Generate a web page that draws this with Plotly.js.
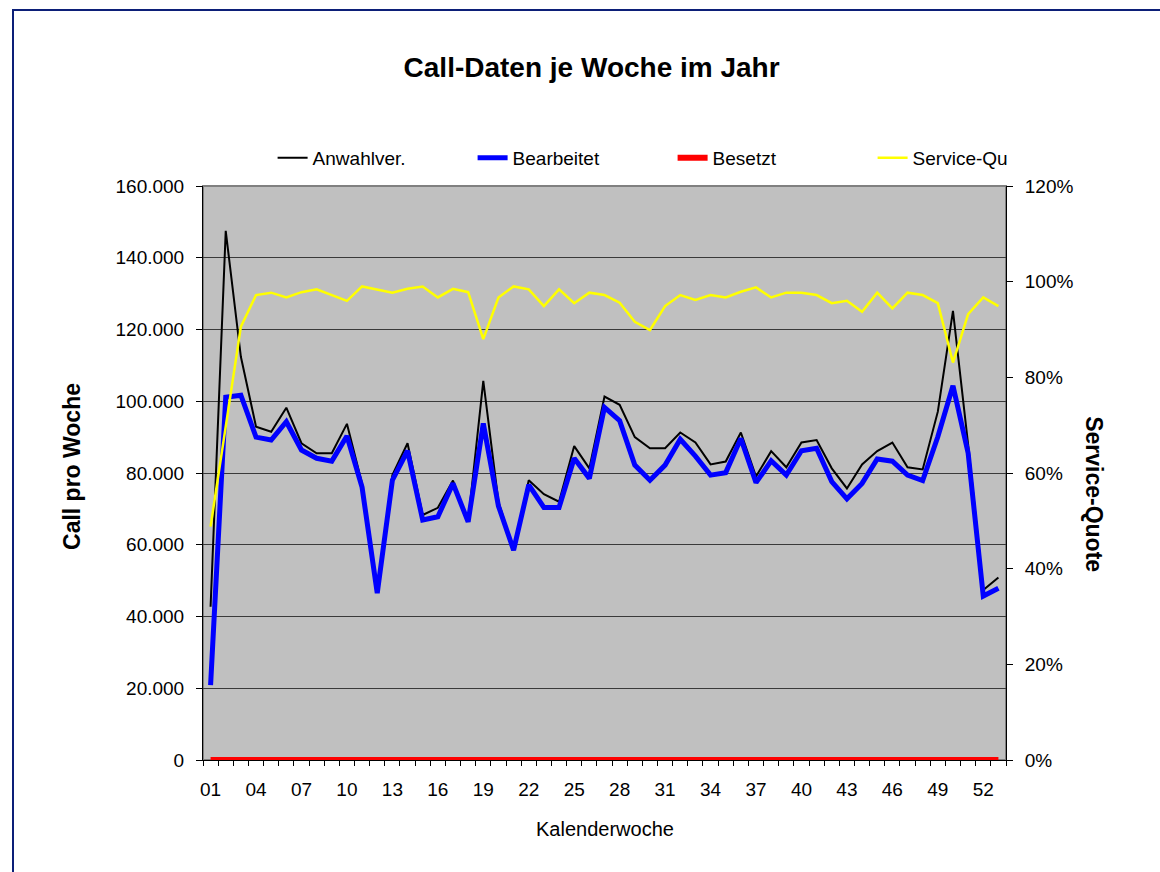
<!DOCTYPE html>
<html>
<head>
<meta charset="utf-8">
<script src="https://cdn.plot.ly/plotly-3.0.1.min.js"></script>
<style>
  html, body { margin: 0; padding: 0; background: #ffffff; }
  #wrap { position: relative; width: 1160px; height: 872px; overflow: hidden; }
  #chart { position: absolute; left: 0; top: 0; width: 1160px; height: 872px; }
  #frame { position: absolute; left: 12px; top: 9px; width: 1200px; height: 920px;
           border: 2px solid #0c1f78; pointer-events: none; box-sizing: border-box; }
</style>
</head>
<body>
<div id="wrap">
  <div id="chart"></div>
  <div id="frame"></div>
</div>
<script>
const weeks = ["01","02","03","04","05","06","07","08","09","10","11","12","13","14","15","16","17","18","19","20","21","22","23","24","25","26","27","28","29","30","31","32","33","34","35","36","37","38","39","40","41","42","43","44","45","46","47","48","49","50","51","52","53"];
const tickWeeks = ["01","04","07","10","13","16","19","22","25","28","31","34","37","40","43","46","49","52"];

const anwahlver = [42700,147500,112400,92900,91500,98200,88300,85500,85500,93700,77000,47000,79400,88300,68300,70300,77900,66500,105700,72000,58500,78000,74100,72000,87500,81300,101300,99000,90000,86900,86900,91300,88500,82400,83200,91300,79000,86100,81600,88500,89200,81300,75700,82400,86100,88500,81600,81000,97100,125200,88000,47400,50900];
const bearbeitet = [20900,101100,101700,90000,89200,94300,86400,84100,83300,90300,76000,46500,78000,86200,66900,67800,77100,66400,93800,70800,58500,76700,70400,70400,84100,78500,98300,94600,82200,78000,82200,89400,84700,79400,80100,89600,77300,83400,79400,86200,86900,77600,72800,77100,83900,83300,79400,77900,90100,104300,85600,45700,47900];
const besetzt = [0,0,0,0,0,0,0,0,0,0,0,0,0,0,0,0,0,0,0,0,0,0,0,0,0,0,0,0,0,0,0,0,0,0,0,0,0,0,0,0,0,0,0,0,0,0,0,0,0,0,0,0,0];
const serviceQuote = [48.8,69.7,90.6,97.2,97.7,96.7,97.8,98.4,97.2,96.0,99.0,98.3,97.7,98.5,99.0,96.7,98.5,97.8,88.0,96.7,99.0,98.4,94.9,98.4,95.5,97.7,97.2,95.6,91.6,89.9,94.9,97.2,96.2,97.2,96.7,97.9,98.8,96.7,97.7,97.7,97.2,95.5,96.0,93.7,97.7,94.4,97.7,97.2,95.5,83.1,93.2,96.7,94.9];

const FONT = "Liberation Sans, Arial, Helvetica, sans-serif";
const tickText = weeks.map(w => tickWeeks.includes(w) ? w : "");

const traces = [
  { x: weeks, y: anwahlver, name: "Anwahlver.", type: "scatter", mode: "lines",
    line: { color: "#000000", width: 2 }, yaxis: "y" },
  { x: weeks, y: bearbeitet, name: "Bearbeitet", type: "scatter", mode: "lines",
    line: { color: "#0000ff", width: 5 }, yaxis: "y" },
  { x: weeks, y: besetzt, name: "Besetzt", type: "scatter", mode: "lines",
    line: { color: "#ff0000", width: 6 }, yaxis: "y" },
  { x: weeks, y: serviceQuote, name: "Service-Qu", type: "scatter", mode: "lines",
    line: { color: "#ffff00", width: 2.5 }, yaxis: "y2" }
];

const layout = {
  width: 1160, height: 872,
  margin: { l: 203, r: 154, t: 186, b: 112, pad: 0 },
  paper_bgcolor: "#ffffff",
  plot_bgcolor: "#c0c0c0",
  separators: ",.",
  font: { family: FONT, color: "#000000", size: 18 },
  showlegend: true,
  title: { text: "<b>Call-Daten je Woche im Jahr</b>", font: { family: FONT, size: 28, color: "#000000" },
           x: 0.51, xref: "container", xanchor: "center", y: 0.923, yref: "container", yanchor: "middle" },
  legend: { orientation: "h", xref: "container", x: 0.235, xanchor: "left", yref: "container", y: 1 - 158/872, yanchor: "middle",
            font: { family: FONT, size: 19, color: "#000000" }, bgcolor: "rgba(0,0,0,0)",
            entrywidth: 155, entrywidthmode: "pixels", traceorder: "normal" },
  xaxis: {
    type: "category", categoryorder: "array", categoryarray: weeks,
    tickmode: "array", tickvals: weeks, ticktext: tickText, tickangle: 0,
    tickson: "boundaries", ticks: "outside", ticklen: 5, tickcolor: "#000000",
    showline: true, linecolor: "#000000", linewidth: 1,
    showgrid: false, zeroline: false, ticklabelstandoff: 12,
    tickfont: { family: FONT, size: 19, color: "#000000" },
    range: [-0.5, 52.5]
  },
  yaxis: {
    range: [0, 160000], tickmode: "linear", tick0: 0, dtick: 20000, tickformat: ",d",
    ticks: "outside", ticklen: 6, tickcolor: "#000000",
    showline: true, linecolor: "#000000", linewidth: 1,
    showgrid: true, gridcolor: "#3a3a3a", gridwidth: 1, zeroline: false,
    tickfont: { family: FONT, size: 19, color: "#000000" }, ticklabelstandoff: 8
  },
  yaxis2: {
    overlaying: "y", side: "right",
    range: [0, 120], tickmode: "linear", tick0: 0, dtick: 20, ticksuffix: "%",
    ticks: "outside", ticklen: 6, tickcolor: "#000000",
    showline: true, linecolor: "#000000", linewidth: 1,
    showgrid: false, zeroline: false,
    tickfont: { family: FONT, size: 19, color: "#000000" }, ticklabelstandoff: 8
  },
  shapes: [
    { type: "rect", xref: "paper", yref: "paper", x0: 0, x1: 1, y0: 0, y1: 1,
      line: { color: "#808080", width: 2 }, layer: "below" }
  ],
  annotations: [
    { text: "<b>Call pro Woche</b>", xref: "paper", yref: "paper", x: -0.1633, y: 0.512,
      showarrow: false, textangle: -90, font: { family: FONT, size: 23, color: "#000000" },
      xanchor: "center", yanchor: "middle" },
    { text: "<b>Service-Quote</b>", xref: "paper", yref: "paper", x: 1.1097, y: 0.463,
      showarrow: false, textangle: 90, font: { family: FONT, size: 23, color: "#000000" },
      xanchor: "center", yanchor: "middle" },
    { text: "Kalenderwoche", xref: "paper", yref: "paper", x: 0.501, y: -0.12,
      showarrow: false, font: { family: FONT, size: 20, color: "#000000" },
      xanchor: "center", yanchor: "middle" }
  ]
};

Plotly.newPlot("chart", traces, layout, { displayModeBar: false, staticPlot: true });
</script>
</body>
</html>
